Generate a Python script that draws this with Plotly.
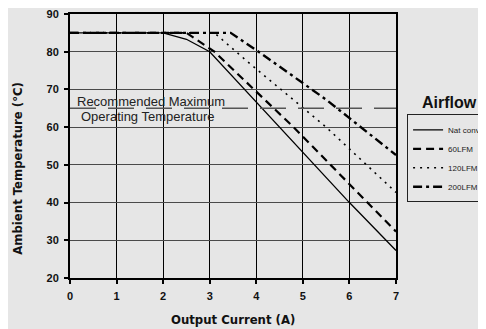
import plotly.graph_objects as go

# ---- data ----
nat_x = [0, 2.0, 2.5, 3.0, 6.0, 7.0]
nat_y = [85, 85, 83.3, 80, 40, 27.3]
lfm60_x = [0, 2.5, 3.1, 4.8, 7.0]
lfm60_y = [85, 85, 80, 60, 32.3]
lfm120_x = [0, 3.1, 3.8, 5.5, 7.0]
lfm120_y = [85, 85, 77.5, 60, 42.7]
lfm200_x = [0, 3.45, 4.05, 5.5, 7.0]
lfm200_y = [85, 85, 80, 67.3, 52.6]
series_names = ["Nat conv", "60LFM", "120LFM", "200LFM"]
rec_max_temp = 65
x_ticks = [0, 1, 2, 3, 4, 5, 6, 7]
y_ticks = [20, 30, 40, 50, 60, 70, 80, 90]

BG = "#e6e6e6"
TICKFONT = dict(family="Liberation Sans, Arial, sans-serif", size=11, color="#111", weight="bold")
TITLEFONT = dict(family="DejaVu Sans Condensed, Liberation Sans Narrow, sans-serif", size=13, color="#111", weight="bold")

fig = go.Figure()
fig.add_trace(go.Scatter(x=nat_x, y=nat_y, mode="lines", name=series_names[0],
                         line=dict(color="black", width=1.3)))
fig.add_trace(go.Scatter(x=lfm60_x, y=lfm60_y, mode="lines", name=series_names[1],
                         line=dict(color="black", width=2.2, dash="8px,5px")))
fig.add_trace(go.Scatter(x=lfm120_x, y=lfm120_y, mode="lines", name=series_names[2],
                         line=dict(color="black", width=1.6, dash="2px,5px")))
fig.add_trace(go.Scatter(x=lfm200_x, y=lfm200_y, mode="lines", name=series_names[3],
                         line=dict(color="black", width=2.4, dash="9px,4px,3px,4px")))

# recommended maximum operating temperature line
fig.add_shape(type="line", xref="x", yref="y", x0=x_ticks[0], x1=x_ticks[-1],
              y0=rec_max_temp, y1=rec_max_temp,
              line=dict(color="#555", width=1.5, dash="26px,12px"))
fig.add_annotation(x=0.11, y=rec_max_temp + 1.9, xref="x", yref="y", text="Recommended Maximum",
                   showarrow=False, xanchor="left", yanchor="middle",
                   font=dict(family="Liberation Sans, Arial, sans-serif", size=13, color="#222"))
fig.add_annotation(x=0.2, y=rec_max_temp - 2.3, xref="x", yref="y", text="Operating Temperature",
                   showarrow=False, xanchor="left", yanchor="middle",
                   font=dict(family="Liberation Sans, Arial, sans-serif", size=13, color="#222"))

# axis titles
fig.add_annotation(x=0.5, y=-0.159, xref="paper", yref="paper", text="Output Current (A)",
                   showarrow=False, xanchor="center", yanchor="middle", font=TITLEFONT)
fig.add_annotation(x=-0.16, y=0.417, xref="paper", yref="paper", text="Ambient Temperature (°C)",
                   showarrow=False, xanchor="center", yanchor="middle", textangle=-90, font=TITLEFONT)
# legend title
fig.add_annotation(x=1.165, y=0.663, xref="paper", yref="paper", text="Airflow",
                   showarrow=False, xanchor="center", yanchor="middle",
                   font=dict(family="Liberation Sans, Arial, sans-serif", size=16, color="#111", weight="bold"))

# the page body adds an 8px offset, so margins are reduced to keep the plot area where the reference has it
fig.update_layout(
    width=486, height=329,
    margin=dict(l=62, r=98, t=6, b=59, autoexpand=False),
    paper_bgcolor=BG, plot_bgcolor=BG,
    showlegend=True,
    legend=dict(x=1.034, y=0.62, xanchor="left", yanchor="top",
                bgcolor=BG, bordercolor="#222", borderwidth=1,
                font=dict(family="Liberation Sans, Arial, sans-serif", size=8, color="#222"),
                tracegroupgap=0, itemwidth=30),
    xaxis=dict(range=[0, 7], tickvals=x_ticks, ticks="outside", ticklen=4, tickwidth=1.5,
               tickcolor="black", showline=True, linecolor="black", linewidth=2, mirror=True,
               showgrid=True, gridcolor="black", gridwidth=1, zeroline=False,
               tickfont=TICKFONT, ticklabelstandoff=3, ticklabeloverflow="allow", fixedrange=True),
    yaxis=dict(range=[20, 90], tickvals=y_ticks, ticks="outside", ticklen=4, tickwidth=1.5,
               tickcolor="black", showline=True, linecolor="black", linewidth=2, mirror=True,
               showgrid=True, gridcolor="#4a4a4a", gridwidth=1, zeroline=False,
               tickfont=TICKFONT, ticklabelstandoff=3, ticklabeloverflow="allow", fixedrange=True),
)

fig.write_html("out.html")
